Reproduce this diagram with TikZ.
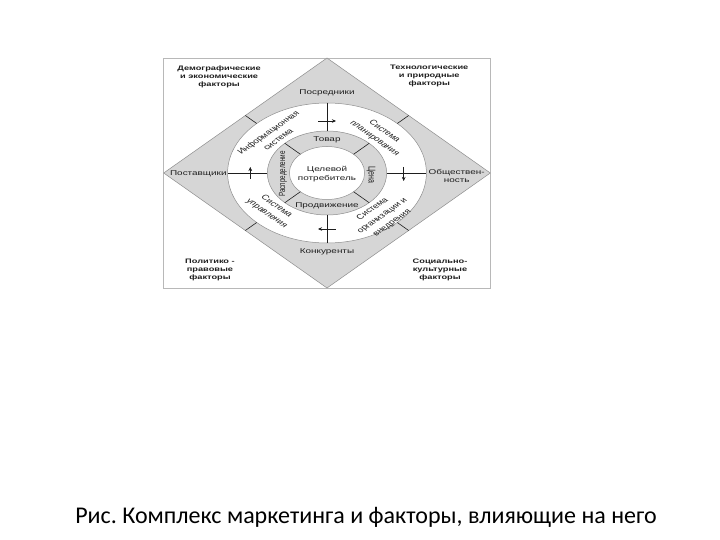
\documentclass[tikz,border=0pt]{standalone}
\usepackage{fontspec}
\setmainfont{Liberation Sans}
\newfontfamily\capfont{Carlito}
\usetikzlibrary{arrows.meta}
\definecolor{band}{HTML}{D6D6D6}
\definecolor{edge}{HTML}{8E8E8E}
\definecolor{ink}{HTML}{1E1E1E}
\frenchspacing
\tikzset{
  lbl/.style={font=\fontsize{7}{8.6}\selectfont, align=center, text=ink, inner sep=0pt},
  diag/.style={font=\fontsize{7}{9.8}\selectfont, align=center, text=ink, inner sep=0pt},
  fac/.style={font=\bfseries\fontsize{6.5}{8.3}\selectfont, align=center, text=ink, inner sep=0pt},
  divl/.style={draw=ink, line width=0.6pt},
  flow/.style={-{Stealth[length=4pt,width=3.6pt]}, draw=ink, line width=0.5pt},
  framebox/.style={draw=black!28, line width=0.9pt},
}
\begin{document}
\begin{tikzpicture}[x=1pt,y=-1pt]
\useasboundingbox (0,0) rectangle (720,540);
\fill[white] (0,0) rectangle (720,540);
\begin{scope}[shift={(327,173)}, xscale=1.42, every node/.append style={transform shape}]
  % frame and bands
  \draw[framebox] (-115,-115) rectangle (115,115);
  \filldraw[fill=band, draw=edge, line width=0.5pt] (0,-115) -- (115,0) -- (0,115) -- (-115,0) -- cycle;
  \filldraw[fill=white, draw=edge, line width=0.5pt] (0,0) circle (70);
  \filldraw[fill=band, draw=edge, line width=0.5pt] (0,0) circle (42);
  \filldraw[fill=white, draw=edge, line width=0.5pt] (0,0) circle (26.5);
  % diagonal dividers in the diamond band and the inner ring
  \foreach \a in {45,135,225,315} {
    \draw[divl] (\a:70) -- (\a:81.3);
    \draw[divl] (\a:26.5) -- (\a:42);
  }
  % axis dividers in the outer ring
  \draw[divl] (0,-70) -- (0,-42);
  \draw[divl] (0,42) -- (0,70);
  \draw[divl] (-70,0) -- (-42,0);
  \draw[divl] (42,0) -- (70,0);
  % flow arrows
  \coordinate (at1) at (-6.3,-52); \coordinate (at2) at (6.3,-52);
  \coordinate (ar1) at (54,-6);    \coordinate (ar2) at (54,8);
  \coordinate (ab1) at (6.3,56);   \coordinate (ab2) at (-6.3,56);
  \coordinate (al1) at (-54,6);    \coordinate (al2) at (-54,-6);
  \draw[flow] (at1) -- (at2);
  \draw[flow] (ar1) -- (ar2);
  \draw[flow] (ab1) -- (ab2);
  \draw[flow] (al1) -- (al2);
  % band labels
  \node[lbl] (posr) at (0,-80) {Посредники};
  \node[lbl] (konk) at (0,79) {Конкуренты};
  \node[lbl] (post) at (-90.6,1) {Поставщики};
  \node[lbl] (obsh) at (91.3,3) {Обществен-\\ность};
  % corner factors
  \node[fac] (dem) at (-76,-96) {Демографические\\и экономические\\факторы};
  \node[fac] (tech) at (72,-97) {Технологические\\и природные\\факторы};
  \node[fac] (pol) at (-82.4,97) {Политико -\\правовые\\факторы};
  \node[fac] (soc) at (79.6,97) {Социально-\\культурные\\факторы};
  % centre and inner ring
  \node[lbl] (cel) at (0,1) {Целевой\\потребитель};
  \node[lbl] (tov) at (0,-33) {Товар};
  \node[lbl] (prod) at (0,33) {Продвижение};
  \node[lbl, rotate=-90] (cena) at (31,2) {Цена};
  \node[lbl, rotate=90, font=\fontsize{6.3}{7.5}\selectfont] (rasp) at (-31,1) {Распределение};
  % outer ring
  \node[diag, rotate=45] (info) at (-38,-37) {Информационная\\система};
  \node[diag, rotate=-45] (plan) at (37,-38) {Система\\планирования};
  \node[diag, rotate=45] (org) at (39,43) {Система\\организации и\\внедрения};
  \node[diag, rotate=-45] (upr) at (-39,37) {Система\\управления};
\end{scope}
\node[font=\capfont\fontsize{24}{28}\selectfont, text=black, inner sep=0pt] (cap) at (366,517) {Рис. Комплекс маркетинга и факторы, влияющие на него};
\end{tikzpicture}
\end{document}
